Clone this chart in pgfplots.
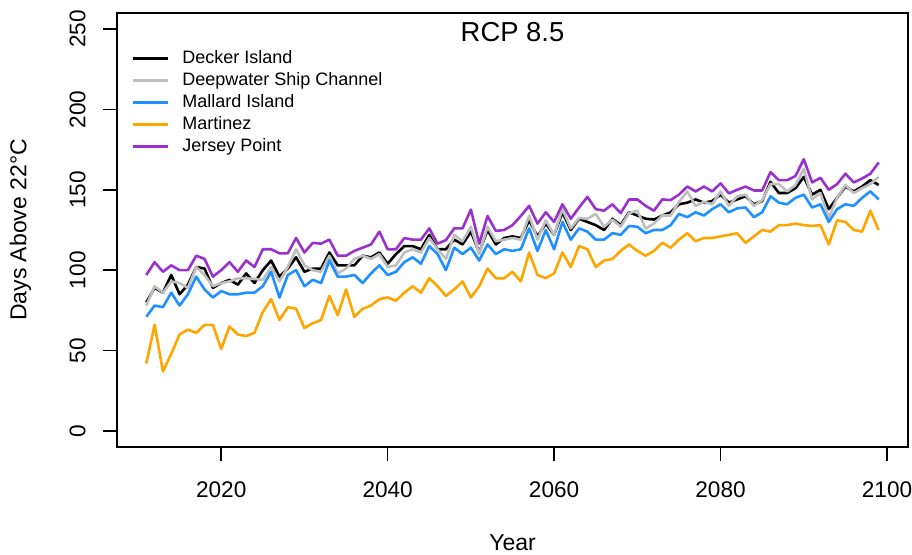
\documentclass[border=0pt]{standalone}
\usepackage{pgfplots}
\usepackage{pgfplotstable}
\pgfplotsset{compat=1.18}
\usepackage{fontspec}
\setmainfont{Liberation Sans}

\definecolor{gray75}{HTML}{BEBEBE}
\definecolor{dodger}{HTML}{1E90FF}
\definecolor{orng}{HTML}{FFA500}
\definecolor{orchid}{HTML}{9932CC}

% Days above 22 C per year, RCP 8.5
% year decker deepwater mallard martinez jersey
\pgfplotstableread{
year dk dw ml mt jp
2011 80 78 71 42 97
2012 89 90 78 66 105
2013 86 86 77 37 99
2014 97 93 86 48 103
2015 85 92 78 60 100
2016 91 89 85 63 100
2017 102 102 96 61 109
2018 101 97 88 66 107
2019 89 90 83 66 96
2020 92 92 87 51 100
2021 94 93 85 65 105
2022 91 95 85 60 99
2023 98 95 86 59 106
2024 92 94.5 86 61 102
2025 100 94 90 74 113
2026 106 102 99 82 113
2027 96 93 83 69 110.5
2028 101 102 97 77 110.5
2029 108 113 100 76 120
2030 99 103 90 64 111
2031 101 100 94 67 117
2032 101 99 92 69 116.5
2033 111 109 106 84 119
2034 103 98 96 72 109
2035 103 101 96 88 109
2036 103 107 97 71 112
2037 109 109 92 76 114
2038 108 107 98 78 116
2039 111 110 103 82 124
2040 104 102 97 83 113
2041 110 103 99 81 113
2042 115 111 105 86 120
2043 115 113 108 90 119
2044 113 111 104 86 119
2045 122 120 115 95 126
2046 113 113 110 90 116.5
2047 113 107 100 84 118.7
2048 119 122 114 88 126
2049 116 118 110 93 126
2050 124 127 114 83 137.7
2051 111 110 106 90 116.5
2052 125 127 116 101 133.7
2053 116 118 110 95 124.4
2054 120 119 113 95 125
2055 121 120 112 99 128
2056 120 119 113 93 133.7
2057 131 134 126 111 140
2058 121 119 112 97 129
2059 129 131 125 95 136
2060 122 122 113 98 130
2061 136 138 130 111 141
2062 125 126 119 102 132
2063 132 132.5 126 115 139
2064 130 132 124 113 145.6
2065 128 135 119 102 138
2066 125 127 119 106 137
2067 132 131.5 123 107 141
2068 128 127 122 112 135.5
2069 136 135.5 127.5 116 144
2070 134 137 127 112 144
2071 132 126 123 109 140
2072 131.5 129 125 112 137
2073 134 134 125 117 144
2074 136 134 128 114 143.6
2075 141 142.5 135 119 147
2076 142 149 133 123 152
2077 144 140 136 118 149
2078 142 142.5 134 120 152
2079 143 141 138 120 149
2080 147 149 141 121 154
2081 142 140 136 122 147.8
2082 144 146 138.5 123 150
2083 146 147 139 117 152
2084 141 140 133 121 149.6
2085 143 143.6 136 125 149.6
2086 155 153.6 146 124 161
2087 148 153.6 142 128 156
2088 148 149 141 128 156
2089 151 153 145 129 158.6
2090 158 163 147 128 169
2091 147 144 139 127.5 154.6
2092 150 148 141 128 157.5
2093 138 132.6 130 116 150
2094 145 145 138 131 153.5
2095 152 153 141 130 160
2096 149 148 140 125 154.6
2097 152 151 145 124 157
2098 156 153.6 149 137 160
2099 153 158 144 125 167
}\temps

\begin{document}
\begin{tikzpicture}
\begin{axis}[
  scale only axis,
  width=395.5pt, height=217pt,
  xmin=2007.48, xmax=2102.52,
  ymin=-10, ymax=260,
  xtick={2020,2040,...,2100},
  ytick={0,50,...,250},
  axis line style={line width=0.8pt},
  tick style={line width=0.8pt, black},
  tick align=outside,
  major tick length=7pt,
  xtick pos=bottom, ytick pos=left,
  /pgf/number format/assume math mode=true,
  /pgf/number format/1000 sep={},
  xticklabel style={font=\fontsize{11.3}{13}\selectfont, inner sep=0pt, anchor=north},
  yticklabel style={font=\fontsize{11.3}{13}\selectfont, inner sep=0pt, rotate=90, anchor=south},
  xticklabel shift=10pt,
  yticklabel shift=8.5pt,
  xlabel={Year},
  ylabel={Days Above 22°C},
  label style={font=\fontsize{11.5}{13}\selectfont},
  xlabel style={at={(axis description cs:0.5,-0.221)}, anchor=center, inner sep=0pt},
  ylabel style={at={(axis description cs:-0.122,0.5)}, anchor=center, rotate=0, inner sep=0pt},
  title={RCP 8.5},
  title style={at={(axis description cs:0.5,1)}, anchor=base, yshift=-20.5pt,
    font=\fontsize{13.7}{15}\selectfont, inner sep=0pt},
  legend style={at={(axis description cs:0,1)}, anchor=north west,
    xshift=4pt, yshift=-16pt, draw=none, fill=none,
    font=\fontsize{9}{10}\selectfont, row sep=1.7pt, column sep=6pt,
    nodes={inner sep=0.5pt, text height=6.5pt, text depth=1.8pt}},
  legend cell align=left,
  legend image code/.code={\draw[#1, line width=1.5pt] (0pt,0pt) -- (17.5pt,0pt);},
  every axis plot/.append style={line width=1.3pt, line join=round, no markers},
]
\addplot[black] table[x=year, y=dk] {\temps};
\addplot[gray75] table[x=year, y=dw] {\temps};
\addplot[dodger] table[x=year, y=ml] {\temps};
\addplot[orng] table[x=year, y=mt] {\temps};
\addplot[orchid] table[x=year, y=jp] {\temps};
\legend{Decker Island, Deepwater Ship Channel, Mallard Island, Martinez, Jersey Point}
\end{axis}
\pgfresetboundingbox
\path (-58.5pt,-54pt) rectangle (397.5pt,223.5pt);
\end{tikzpicture}
\end{document}
